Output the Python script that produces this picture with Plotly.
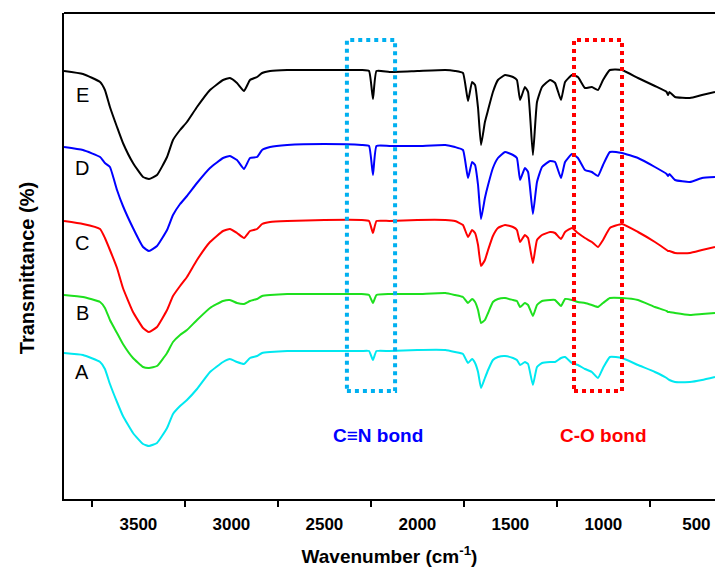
import plotly.graph_objects as go

# Wavenumber grid (cm-1)
wavenumber = [3900, 3798, 3706, 3680, 3653, 3615, 3583, 3529, 3475, 3443, 3400, 3346, 3314,
              3276, 3239, 3185, 3115, 3045, 3008, 2970, 2932, 2900, 2862, 2835, 2792, 2700,
              2500, 2300, 2260, 2239, 2220, 2150, 2000,
              1850, 1798, 1755, 1728, 1706, 1690, 1674, 1658, 1637, 1620, 1594, 1567, 1529,
              1486, 1465, 1448, 1422, 1405, 1379, 1357, 1330, 1287, 1260, 1228, 1206, 1169,
              1137, 1099, 1062, 1029, 1002, 965, 900,
              814, 723, 660, 653, 645, 615, 535, 470, 400]

# Transmittance (a.u., spectra stacked with offsets)
trans_E = [429, 426, 418, 410, 393, 373, 357, 337, 323, 321, 325, 343, 360,
           370, 378, 393, 410, 420, 422, 417, 409, 420, 423, 427, 429, 430,
           430, 430, 429, 401, 429, 428, 429,
           430, 429, 427, 399, 418, 415, 392, 355, 378, 390, 408, 420, 425,
           423, 420, 400, 413, 408, 345, 398, 413, 420, 417, 400, 418, 425,
           423, 412, 413, 410, 420, 430, 430,
           422, 414, 408, 405, 408, 403, 402, 405, 408]
trans_D = [353, 350, 343, 337, 333, 310, 294, 272, 253, 249, 254, 270, 285,
           296, 304, 317, 332, 342, 344, 340, 331, 342, 343, 350, 353, 355,
           356, 355, 354, 325, 354, 354, 354,
           355, 353, 350, 322, 338, 335, 315, 281, 302, 315, 332, 342, 348,
           345, 342, 320, 332, 328, 286, 318, 333, 339, 338, 322, 338, 346,
           342, 330, 328, 324, 335, 348, 347,
           342, 333, 326, 324, 326, 320, 318, 322, 323]
trans_C = [279, 276, 271, 262, 250, 232, 212, 188, 172, 168, 173, 190, 204,
           214, 223, 240, 258, 269, 271, 267, 262, 269, 271, 276, 278, 279,
           280, 280, 279, 267, 279, 279, 280,
           280, 279, 275, 263, 270, 267, 255, 234, 240, 250, 264, 272, 275,
           273, 270, 258, 265, 262, 237, 260, 265, 268, 267, 261, 268, 272,
           267, 262, 258, 253, 260, 272, 276,
           268, 258, 250, 249, 249, 247, 247, 250, 253]
trans_B = [205, 203, 198, 192, 180, 167, 156, 142, 133, 132, 134, 147, 158,
           165, 170, 180, 192, 199, 200, 197, 196, 199, 201, 204, 205, 206,
           206, 206, 205, 197, 205, 206, 206,
           207, 205, 203, 197, 201, 198, 190, 177, 180, 187, 198, 201, 202,
           200, 199, 193, 197, 195, 184, 195, 199, 200, 200, 194, 201, 200,
           198, 197, 195, 193, 197, 202, 202,
           200, 193, 189, 188, 188, 187, 185, 186, 187]
trans_A = [147, 145, 138, 131, 116, 98, 84, 67, 56, 54, 57, 72, 86,
           94, 100, 111, 128, 138, 141, 138, 136, 142, 144, 147, 148, 149,
           149, 149, 149, 140, 149, 149, 150,
           150, 148, 146, 137, 141, 137, 128, 112, 122, 130, 140, 143, 144,
           142, 140, 135, 138, 136, 115, 133, 137, 138, 138, 142, 143, 137,
           135, 131, 128, 122, 132, 143, 142,
           135, 128, 122, 121, 120, 118, 118, 120, 123]

series_names = ["E", "D", "C", "B", "A"]
series_colors = ["#000000", "#0000FF", "#FF0000", "#1EE01E", "#00E8F0"]
label_y = [405, 332, 257, 187, 128]
label_x = 3803

major_ticks = [3500, 3000, 2500, 2000, 1500, 1000, 500]
minor_ticks = [3750, 3250, 2750, 2250, 1750, 1250, 750]

cn_box = [2379, 2120, 109, 460]   # x0, x1, y0, y1
co_box = [1158, 900, 109, 460]
cn_text = "C\u2261N bond"
co_text = "C-O bond"

FONT = "Arial, Liberation Sans, sans-serif"

fig = go.Figure()
all_series = [trans_E, trans_D, trans_C, trans_B, trans_A]
for name, vals, col in zip(series_names, all_series, series_colors):
    fig.add_trace(go.Scatter(x=wavenumber, y=vals, mode="lines", name=name,
                             line=dict(color=col, width=2, shape="spline", smoothing=0.4),
                             showlegend=False))

for name, ly in zip(series_names, label_y):
    fig.add_annotation(x=label_x, y=ly, text=name, showarrow=False,
                       font=dict(family=FONT, size=20, color="black"))

fig.add_shape(type="rect", x0=cn_box[0], x1=cn_box[1], y0=cn_box[2], y1=cn_box[3],
              line=dict(color="#00B0F0", width=4, dash="dot"))
fig.add_shape(type="rect", x0=co_box[0], x1=co_box[1], y0=co_box[2], y1=co_box[3],
              line=dict(color="#FF0000", width=4, dash="dot"))
fig.add_annotation(x=2212, y=65, text="<b>" + cn_text + "</b>", showarrow=False,
                   font=dict(family=FONT, size=19, color="#0000FF"))
fig.add_annotation(x=997, y=65, text="<b>" + co_text + "</b>", showarrow=False,
                   font=dict(family=FONT, size=19, color="#FF0000"))

# y-axis title
fig.add_annotation(xref="paper", yref="paper", x=-0.0568, y=0.475,
                   text="<b>Transmittance (%)</b>", textangle=-90, showarrow=False,
                   xanchor="center", yanchor="middle",
                   font=dict(family=FONT, size=20, color="black"))

# top border
fig.add_shape(type="line", xref="paper", yref="paper", x0=0, x1=1, y0=1, y1=1,
              line=dict(color="black", width=2))

fig.update_layout(
    width=715, height=571,
    margin=dict(l=64, r=0, t=13, b=72),
    plot_bgcolor="white", paper_bgcolor="white",
    font=dict(family=FONT, color="black"),
    xaxis=dict(range=[3900, 400], showgrid=False, zeroline=False,
               showline=True, linecolor="black", linewidth=2,
               tickmode="array", tickvals=major_ticks,
               ticktext=["<b>%d</b>" % t for t in major_ticks],
               ticks="outside", ticklen=9, tickcolor="rgba(0,0,0,0)",
               tickfont=dict(family=FONT, size=17, color="black"),
               minor=dict(tickmode="array", tickvals=minor_ticks, ticks="outside",
                          ticklen=6, tickwidth=2, tickcolor="black"),
               title=dict(text="<b>Wavenumber (cm<sup>-1</sup>)</b>",
                          font=dict(family=FONT, size=19), standoff=16)),
    yaxis=dict(range=[1, 487], showgrid=False, zeroline=False,
               showline=True, linecolor="black", linewidth=2,
               showticklabels=False, ticks=""),
)

fig.write_html("out.html")
